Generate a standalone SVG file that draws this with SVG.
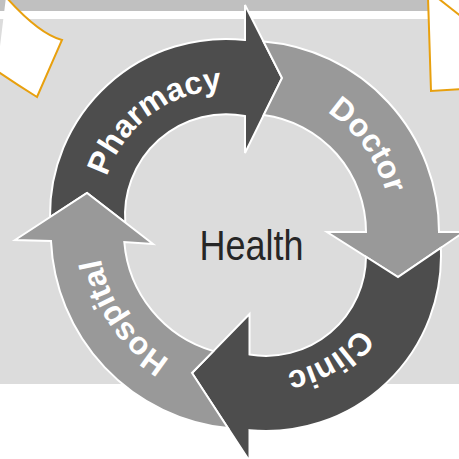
<svg xmlns="http://www.w3.org/2000/svg" width="459" height="459" viewBox="0 0 459 459">
<style>
.arr{stroke:#ffffff;stroke-width:2;stroke-linejoin:miter}
.dark{fill:#4d4d4d}
.light{fill:#999999}
.lbl{font-family:"Liberation Sans",Arial,sans-serif;font-weight:bold;font-size:32px;fill:#ffffff}
.side{fill:#ffffff;stroke:#e8a00e;stroke-width:2}
</style>
<defs>
<path id="tpPharmacy" d="M 101.9,230.2 A125,125 0 0 1 274.8,99.9"/>
<path id="tpDoctor" d="M 233,89.3 A143.5,143.5 0 0 1 379.1,290.4"/>
<path id="tpClinic" d="M 384,253.3 A118,118 0 0 1 209.3,359.5"/>
<path id="tpHospital" d="M 259.5,381.1 A149.5,149.5 0 0 1 113.2,167.4"/>
</defs>
<g id="background">
<rect x="0" y="0" width="459" height="459" fill="#ffffff"/>
<rect x="0" y="0" width="459" height="11" fill="#c0c0c0"/>
<rect x="0" y="19" width="459" height="365" fill="#dcdcdc"/>
</g>
<g id="side-left">
<path class="side" d="M 6,-3 Q 39,34 62,40 L 37,97 Q 16,84 -3,71"/>
</g>
<g id="side-right">
<path d="M 428,-3 L 431,91 L 462,89 L 462,-3 Z" fill="#ffffff"/>
<path d="M 428,-3 L 431,91 L 462,89" fill="none" stroke="#e8a00e" stroke-width="2"/>
<path d="M 439,-1 L 462,17" fill="none" stroke="#e8a00e" stroke-width="2"/>
</g>
<g id="connectors"></g>
<g id="pharmacy">
<path class="arr dark" d="M 50,217.1 A176,176 0 0 1 245,40 L 245,5 L 282,78 L 245,153 L 245,116 A101,101 0 0 0 125.3,222.6 L 87,193 Z"/>
<text class="lbl"><textPath href="#tpPharmacy" startOffset="50%" text-anchor="middle">Pharmacy</textPath></text>
</g>
<g id="doctor">
<path class="arr light" d="M 263.6,41.6 A191,191 0 0 1 439,232 L 464,232 L 398,277 L 327,232 L 366,232 A118,118 0 0 0 263.7,115 L 282,78 Z"/>
<text class="lbl"><textPath href="#tpDoctor" startOffset="50%" text-anchor="middle">Doctor</textPath></text>
</g>
<g id="clinic">
<path class="arr dark" d="M 440.8,247.8 A175,175 0 0 1 249.5,430.2 L 249.5,461 L 192,373 L 249.5,314 L 249.5,354.5 A100,100 0 0 0 366,256.7 L 398,277 Z"/>
<text class="lbl"><textPath href="#tpClinic" startOffset="50%" text-anchor="middle">Clinic</textPath></text>
</g>
<g id="hospital">
<path class="arr light" d="M 227.9,428 A197,197 0 0 1 51,241 L 15,240 L 87,193 L 153,244 L 124.3,242 A124,124 0 0 0 213.4,351.1 L 192,373 Z"/>
<text class="lbl"><textPath href="#tpHospital" startOffset="50%" text-anchor="middle">Hospital</textPath></text>
</g>
<g id="health">
<text x="251.5" y="260" text-anchor="middle" font-family="'Liberation Sans',Arial,sans-serif" font-size="42" fill="#262626" textLength="104" lengthAdjust="spacingAndGlyphs">Health</text>
</g>
</svg>
